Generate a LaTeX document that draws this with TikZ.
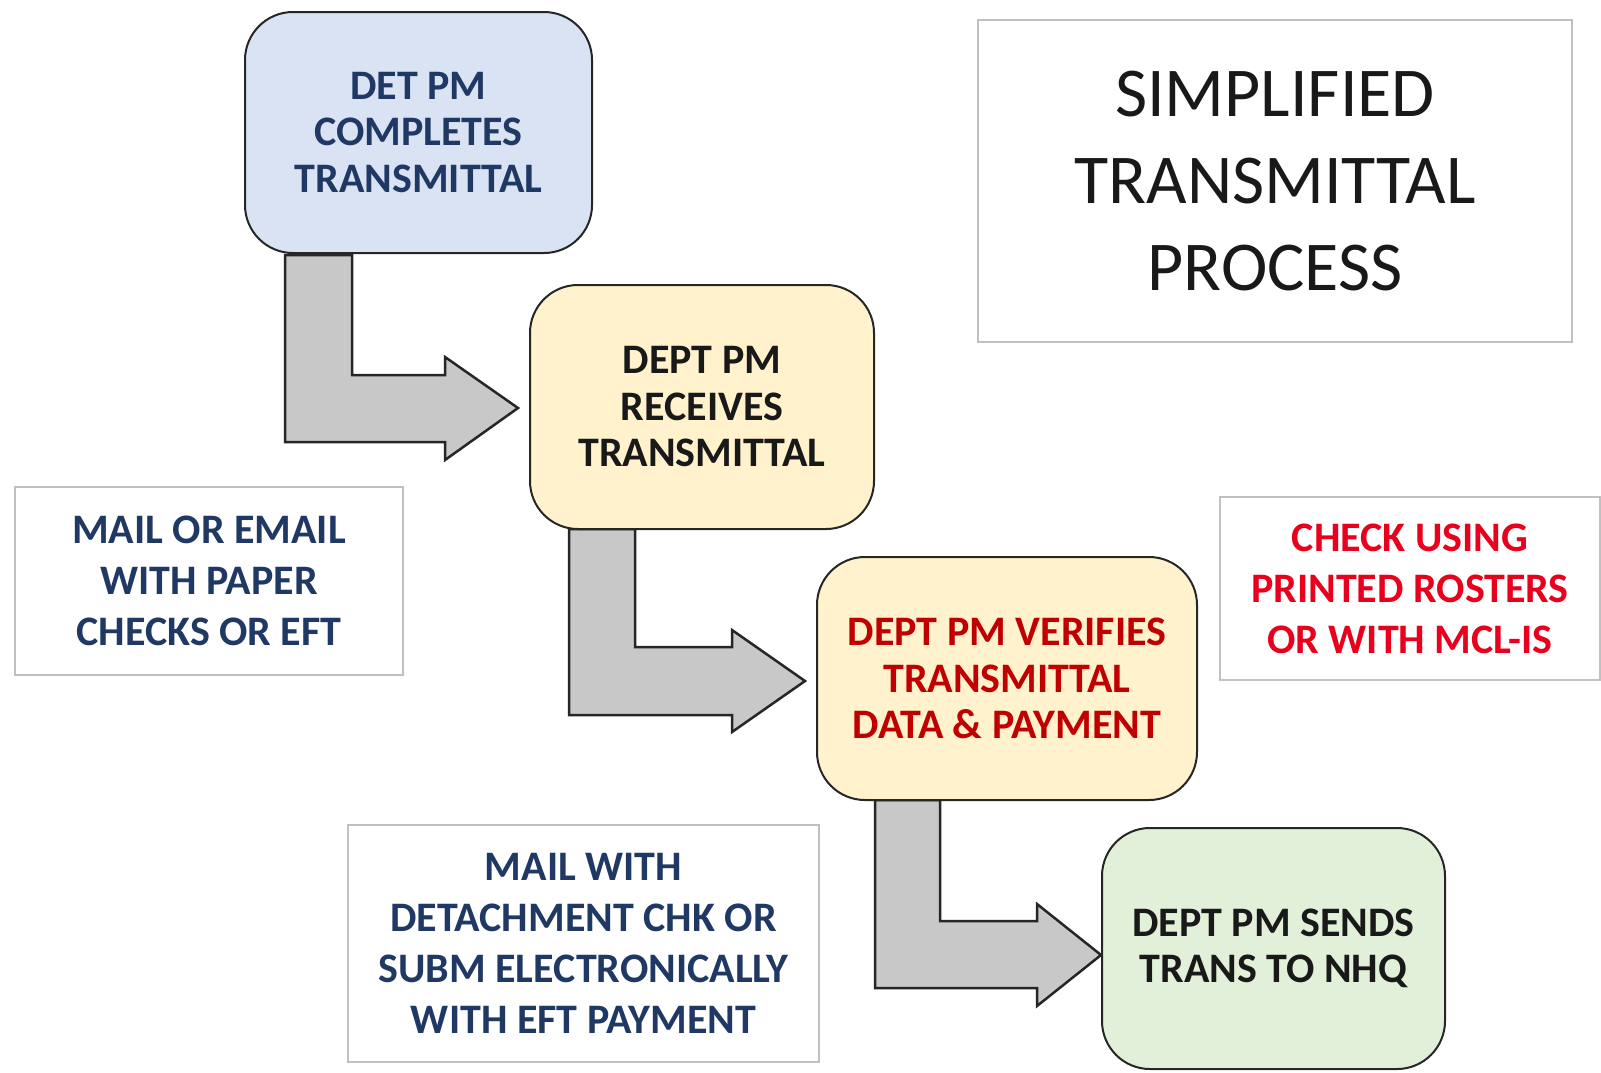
\documentclass[tikz,border=0pt]{standalone}
\usepackage{fontspec}
\setmainfont{Carlito}
\definecolor{navy}{HTML}{1F3864}
\definecolor{dred}{HTML}{C00000}
\definecolor{bred}{HTML}{E8001C}
\definecolor{fblue}{HTML}{DAE3F3}
\definecolor{fyel}{HTML}{FFF2CC}
\definecolor{fgreen}{HTML}{E2F0D9}
\definecolor{agray}{HTML}{C8C8C8}
\definecolor{ngray}{HTML}{C0C0C0}
\tikzset{
  stepbox/.style={draw=black!85, line width=2pt, rounded corners=48pt, align=center,
    inner sep=0pt, font=\bfseries\fontsize{42}{46.5}\selectfont},
  notebox/.style={draw=ngray, line width=2pt, align=center, inner sep=0pt,
    font=\bfseries\fontsize{42}{51}\selectfont},
  blockarrow/.style={fill=agray, draw=black!85, line width=2.5pt, line join=miter},
}
\begin{document}
\begin{tikzpicture}[x=1pt,y=-1pt]
\useasboundingbox (0,0) rectangle (1601,1072);
\fill[white] (0,0) rectangle (1601,1072);

% title
\node[draw=ngray, line width=2pt, minimum width=594pt, minimum height=322pt, align=center,
  font=\fontsize{70}{87}\selectfont, text=black!90] (title) at (1275,181)
  {SIMPLIFIED\\TRANSMITTAL\\PROCESS};

% block arrows
\draw[blockarrow] (285,255) -- (352,255) -- (352,375) -- (445,375) -- (445,357) -- (518,408)
  -- (445,460) -- (445,442) -- (285,442) -- cycle;
\draw[blockarrow] (569,529) -- (635,529) -- (635,647) -- (732,647) -- (732,630) -- (805,681)
  -- (732,732) -- (732,715) -- (569,715) -- cycle;
\draw[blockarrow] (875,800) -- (940,800) -- (940,921) -- (1037,921) -- (1037,904) -- (1101,955)
  -- (1037,1006) -- (1037,988) -- (875,988) -- cycle;

% step boxes
\node[stepbox, fill=fblue, text=navy, minimum width=347pt, minimum height=241pt] (b1) at (418.5,132.5)
  {DET PM\\COMPLETES\\TRANSMITTAL};
\node[stepbox, fill=fyel, text=black!90, minimum width=344pt, minimum height=244pt] (b2) at (702,407)
  {DEPT PM\\RECEIVES\\TRANSMITTAL};
\node[stepbox, fill=fyel, text=dred, minimum width=380pt, minimum height=243pt] (b3) at (1007,678.5)
  {DEPT PM VERIFIES\\TRANSMITTAL\\DATA \& PAYMENT};
\node[stepbox, fill=fgreen, text=black!90, minimum width=343pt, minimum height=241pt] (b4) at (1273.5,948.5)
  {DEPT PM SENDS\\TRANS TO NHQ};

% notes
\node[notebox, text=navy, minimum width=388pt, minimum height=188pt] (n1) at (209,581)
  {MAIL OR EMAIL\\WITH PAPER\\CHECKS OR EFT};
\node[notebox, text=navy, minimum width=471pt, minimum height=237pt] (n2) at (583.5,943.5)
  {MAIL WITH\\DETACHMENT CHK OR\\SUBM ELECTRONICALLY\\WITH EFT PAYMENT};
\node[notebox, text=bred, minimum width=380pt, minimum height=183pt] (n3) at (1410,588.5)
  {CHECK USING\\PRINTED ROSTERS\\OR WITH MCL-IS};
\end{tikzpicture}
\end{document}
